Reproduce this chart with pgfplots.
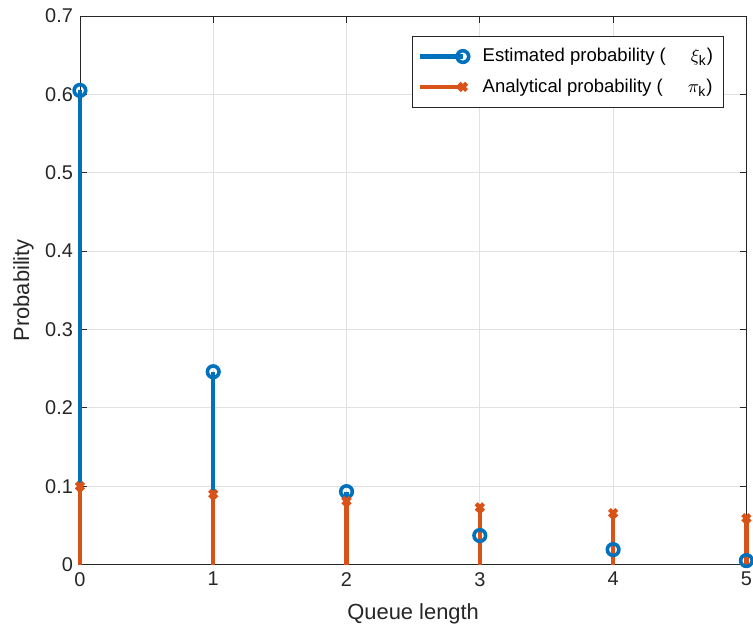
\documentclass[border=0pt]{standalone}
\usepackage{fontspec}
\setmainfont{Liberation Sans}
\usepackage{pgfplots}
\pgfplotsset{compat=1.18}
\definecolor{mblue}{RGB}{0,114,189}
\definecolor{morange}{RGB}{217,83,25}
\definecolor{axgray}{RGB}{38,38,38}
\definecolor{gridgray}{RGB}{225,225,225}

\begin{document}
\begin{tikzpicture}
\begin{axis}[
    width=333.5bp, height=274.5bp, scale only axis,
    xmin=0, xmax=5, ymin=0, ymax=0.7,
    xtick={0,1,2,3,4,5},
    ytick={0,0.1,0.2,0.3,0.4,0.5,0.6,0.7},
    clip=false,
    grid=major,
    major grid style={gridgray, line width=0.4bp},
    axis line style={axgray, line width=0.4bp},
    tick style={axgray, line width=0.4bp},
    major tick length=3.3bp,
    tick align=inside,
    ticklabel style={font=\fontsize{10}{12}\selectfont, text=axgray},
    xticklabel style={yshift=-0.3bp},
    /pgf/number format/assume math mode=true,
    yticklabel style={/pgf/number format/fixed},
    xlabel={Queue length},
    ylabel={Probability},
    label style={font=\fontsize{11}{13}\selectfont, text=axgray},
    xlabel style={yshift=-2bp},
    ylabel style={yshift=-1bp},
    legend cell align=left,
    legend style={at={(1,1)}, anchor=north east, xshift=-11.5bp, yshift=-10bp,
        draw=axgray, line width=0.4bp, fill=white,
        font=\fontsize{9.3}{11}\selectfont, text=black,
        row sep=3bp, inner xsep=3bp, inner ysep=4bp},
    legend image code/.code={
        \draw[#1, sharp plot, mark repeat=2, mark phase=2]
            plot coordinates {(0cm,0cm) (0.75cm,0cm)};
    },
]
\coordinate (sw) at (rel axis cs:0,0);
\coordinate (ne) at (rel axis cs:1,1);
% estimated probability
\addplot+[ycomb, mblue, line width=2.1bp,
    mark=o, mark size=2.9bp, mark options={solid, line width=1.8bp, mblue}]
    coordinates {(0,0.605) (1,0.246) (2,0.093) (3,0.037) (4,0.019) (5,0.005)};
\addlegendentry{\hspace{5bp}Estimated probability (\hspace{12.5bp}$\xi_{\hbox{\scriptsize k}}$)}
% analytical probability
\addplot+[ycomb, morange, line width=2.1bp,
    mark=x, mark size=2.6bp, mark options={solid, line width=2.1bp, morange}]
    coordinates {(0,0.1) (1,0.09) (2,0.081) (3,0.0729) (4,0.0656) (5,0.059)};
\addlegendentry{\hspace{5bp}Analytical probability (\hspace{12.5bp}$\pi_{\hbox{\scriptsize k}}$)}
\end{axis}
\pgfresetboundingbox
\path ([shift={(-40bp,-32.5bp)}]sw) rectangle ([shift={(3.3bp,8bp)}]ne);
\end{tikzpicture}
\end{document}
